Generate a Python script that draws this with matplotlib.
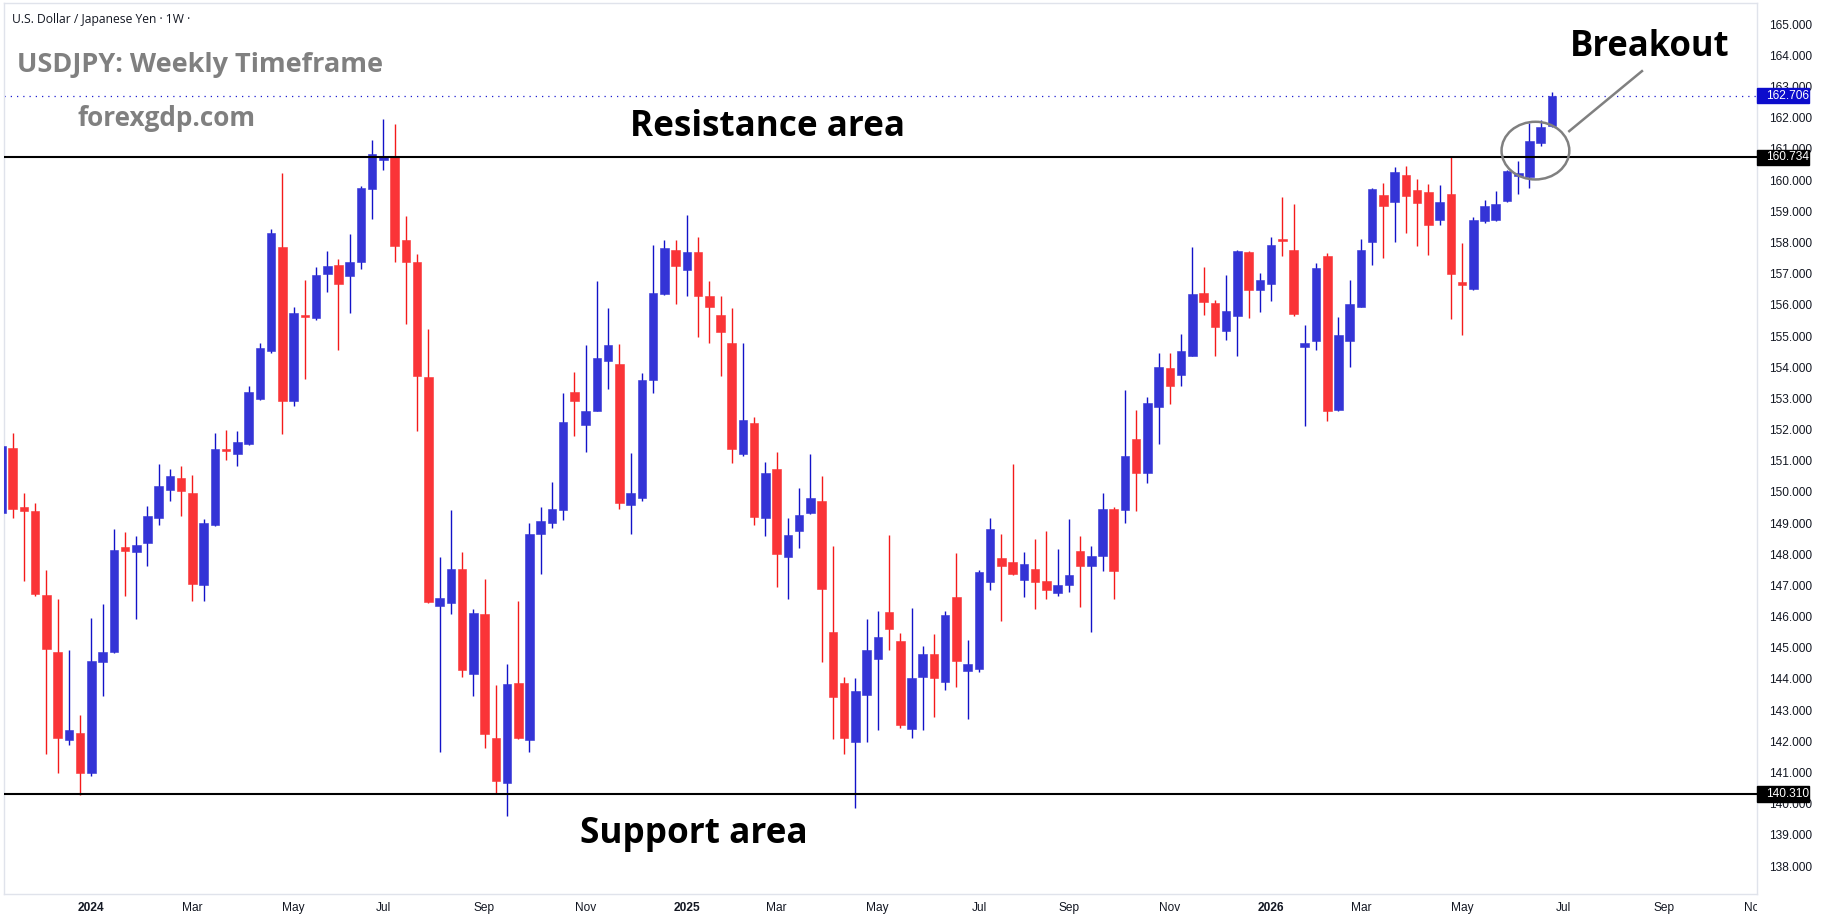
import matplotlib.pyplot as plt
import pandas as pd
from matplotlib.patches import Ellipse, Rectangle
from matplotlib.transforms import blended_transform_factory, Bbox, TransformedBbox

# weekly USDJPY candles, first bar = week of 2023-11-06
start_week = "2023-11-06"
opens = [149.31, 151.42, 149.50, 149.40, 146.68, 144.86, 142.03, 142.27, 140.97, 144.56,
         144.86, 148.23, 148.08, 148.36, 149.17, 150.06, 150.46, 149.95, 147.00, 148.93,
         151.39, 151.22, 151.54, 152.99, 154.53, 157.87, 152.92, 155.66, 155.58, 157.00,
         157.27, 156.91, 157.36, 159.72, 160.65, 160.75, 158.08, 157.36, 153.67, 146.34,
         146.43, 147.53, 144.15, 146.09, 142.10, 140.65, 143.88, 142.03, 148.66, 148.99,
         149.42, 153.22, 152.14, 152.60, 154.20, 154.09, 149.57, 149.82, 153.60, 156.36,
         157.76, 157.13, 157.68, 156.27, 155.66, 154.77, 151.20, 152.20, 149.16, 150.72,
         147.91, 148.74, 149.33, 149.72, 145.51, 143.88, 141.99, 143.48, 144.64, 146.15,
         145.22, 142.39, 144.07, 144.81, 143.90, 146.64, 144.26, 144.32, 147.10, 147.89,
         147.74, 147.17, 147.53, 147.15, 146.75, 147.00, 148.12, 147.62, 147.95, 149.46,
         149.42, 151.71, 150.61, 152.73, 153.96, 153.75, 154.37, 156.38, 156.06, 155.15,
         155.64, 157.68, 156.49, 156.68, 158.10, 157.76, 154.64, 154.85, 157.55, 152.62,
         154.85, 155.94, 158.02, 159.52, 159.29, 160.16, 159.69, 159.61, 158.72, 159.55,
         156.74, 156.51, 158.70, 158.72, 159.33, 160.14, 160.10, 161.20, 161.75]
highs = [151.60, 151.90, 149.97, 149.65, 147.51, 146.57, 144.94, 142.84, 145.96, 146.41,
         148.80, 148.70, 148.57, 149.55, 150.88, 150.74, 150.84, 150.55, 149.14, 151.88,
         151.97, 151.94, 153.39, 154.79, 158.42, 160.22, 155.94, 156.79, 157.21, 157.72,
         157.46, 158.27, 159.82, 161.28, 161.96, 161.80, 158.84, 157.63, 155.21, 147.91,
         149.42, 148.06, 146.24, 147.21, 143.80, 144.49, 146.49, 148.99, 149.53, 150.33,
         153.18, 153.86, 154.70, 156.76, 155.91, 154.73, 151.24, 153.81, 157.91, 158.08,
         158.08, 158.87, 158.19, 156.76, 156.27, 155.89, 154.79, 152.39, 150.97, 151.29,
         149.17, 150.14, 151.20, 150.50, 148.27, 144.07, 144.03, 145.92, 146.19, 148.63,
         145.49, 146.28, 145.07, 145.45, 146.19, 148.04, 145.24, 147.51, 149.17, 148.66,
         150.91, 148.08, 148.49, 148.76, 148.17, 149.14, 148.57, 148.27, 149.95, 149.52,
         153.28, 152.62, 153.05, 154.47, 154.47, 155.05, 157.87, 157.21, 156.17, 156.96,
         157.76, 157.72, 157.02, 158.19, 159.46, 159.23, 155.34, 157.34, 157.65, 155.62,
         156.81, 158.10, 159.74, 159.90, 160.42, 160.44, 160.03, 159.88, 159.84, 160.75,
         157.97, 158.82, 159.37, 159.65, 160.33, 160.61, 161.84, 161.94, 162.83]
lows = [149.20, 149.17, 147.15, 146.66, 141.61, 140.97, 141.88, 140.29, 140.90, 143.45,
        144.84, 146.66, 145.92, 147.62, 148.93, 149.70, 149.23, 146.49, 146.49, 148.90,
        151.03, 150.84, 151.52, 152.96, 154.47, 151.86, 152.77, 153.62, 155.51, 156.40,
        154.56, 155.75, 157.15, 158.76, 160.33, 157.38, 155.40, 151.95, 146.43, 141.67,
        146.07, 144.05, 143.45, 141.78, 140.31, 139.59, 142.07, 141.67, 147.36, 148.83,
        149.10, 151.80, 151.27, 152.58, 153.30, 149.46, 148.65, 149.70, 153.18, 156.30,
        156.04, 156.27, 154.98, 154.79, 153.73, 150.93, 151.15, 148.93, 148.59, 146.94,
        146.57, 148.19, 149.30, 144.54, 142.07, 141.61, 139.87, 141.97, 142.35, 144.92,
        142.42, 142.12, 142.37, 142.78, 143.65, 143.75, 142.71, 144.22, 146.85, 145.85,
        147.32, 146.62, 146.24, 146.58, 146.66, 146.79, 146.30, 145.51, 147.45, 146.58,
        149.00, 149.38, 150.29, 151.54, 152.81, 153.39, 154.35, 155.66, 154.36, 154.88,
        154.37, 155.58, 155.77, 156.11, 157.55, 155.64, 152.12, 154.54, 152.28, 152.58,
        154.00, 155.92, 157.29, 157.51, 158.02, 158.29, 157.89, 157.61, 158.57, 155.53,
        155.04, 156.49, 158.63, 158.70, 159.29, 159.57, 159.76, 161.09, 161.71]
closes = [151.48, 149.46, 149.38, 146.72, 144.96, 142.10, 142.37, 140.97, 144.58, 144.86,
          148.15, 148.10, 148.30, 149.23, 150.18, 150.50, 150.03, 147.04, 148.99, 151.39,
          151.31, 151.61, 153.22, 154.60, 158.29, 152.92, 155.75, 155.60, 156.96, 157.23,
          156.68, 157.36, 159.76, 160.84, 160.78, 157.89, 157.38, 153.73, 146.47, 146.60,
          147.53, 144.30, 146.13, 142.22, 140.74, 143.84, 142.12, 148.66, 149.08, 149.44,
          152.24, 152.90, 152.58, 154.28, 154.70, 149.65, 149.95, 153.58, 156.38, 157.82,
          157.25, 157.68, 156.27, 155.94, 155.13, 151.39, 152.29, 149.19, 150.61, 148.00,
          148.63, 149.27, 149.82, 146.89, 143.41, 142.10, 143.62, 144.94, 145.36, 145.60,
          142.52, 144.03, 144.81, 144.03, 146.05, 144.58, 144.49, 147.42, 148.80, 147.62,
          147.36, 147.68, 147.11, 146.85, 147.02, 147.34, 147.62, 147.95, 149.46, 147.45,
          151.14, 150.61, 152.86, 154.00, 153.41, 154.51, 156.34, 156.09, 155.30, 155.79,
          157.72, 156.49, 156.81, 157.91, 158.04, 155.72, 154.77, 157.17, 152.60, 155.02,
          156.02, 157.76, 159.71, 159.18, 160.25, 159.48, 159.25, 158.57, 159.29, 157.00,
          156.64, 158.72, 159.16, 159.23, 160.29, 160.22, 161.26, 161.71, 162.706]

resistance = 160.734
support = 140.310

W, H = 1825, 923
plt.rcParams["font.family"] = ["Liberation Sans", "DejaVu Sans"]
fig = plt.figure(figsize=(W / 100, H / 100), dpi=100)
ax = fig.add_axes([4 / W, (H - 893.5) / H, (1757 - 4) / W, (893.5 - 3) / H])

x = list(range(len(opens)))
up = [c >= o for o, c in zip(opens, closes)]
body_col = ["#3434D6" if u else "#FA3437" for u in up]
wick_col = ["#1212C8" if u else "#F41A1A" for u in up]

ax.vlines(x, lows, highs, colors=wick_col, linewidth=1.0, zorder=2)
ax.bar(x, [abs(c - o) for o, c in zip(opens, closes)],
       bottom=[min(o, c) for o, c in zip(opens, closes)],
       width=0.76, color=body_col, edgecolor=body_col, linewidth=0.4, zorder=3)

# support / resistance + last price line
ax.axhline(resistance, color="black", lw=1.5, zorder=4)
ax.axhline(support, color="black", lw=1.5, zorder=4)
ax.axhline(closes[-1], color="#1c1cd0", lw=0.9, ls=(0, (1, 4)), zorder=1)

ax.set_xlim(0.23, 156.25)
ax.set_ylim(137.12, 165.68)

# y axis on the right, TradingView style
ax.yaxis.tick_right()
ax.set_yticks(range(138, 166))
ax.set_yticklabels([f"{v:.3f}" for v in range(138, 166)])
ax.tick_params(axis="y", length=0, pad=9, labelsize=8.6, labelcolor="#131722")

# x ticks at first weekly bar of every other month
start = pd.Timestamp(start_week)
tick_pos, tick_lab = [], []
for m in pd.date_range("2024-01-01", "2026-11-01", freq="2MS"):
    d = m + pd.Timedelta(days=(7 - m.weekday()) % 7)
    tick_pos.append((d - start).days // 7)
    tick_lab.append(str(m.year) if m.month == 1 else m.strftime("%b"))
ax.set_xticks(tick_pos)
ax.set_xticklabels(tick_lab)
ax.tick_params(axis="x", length=0, pad=6, labelsize=8.6, labelcolor="#131722")
clip = TransformedBbox(Bbox([[0, -1], [1, 1]]), ax.transAxes)
for lab in ax.get_xticklabels():
    if lab.get_text().isdigit():
        lab.set_fontweight("bold")
    lab.set_clip_box(clip)
    lab.set_clip_on(True)

for s in ax.spines.values():
    s.set_color("#E0E3EB")
    s.set_linewidth(1.0)

# price tags on the scale
trans = blended_transform_factory(ax.transAxes, ax.transData)
for price, fc in [(closes[-1], "#0C0CCC"), (resistance, "black"), (support, "black")]:
    ax.add_patch(Rectangle((1.0, price - 0.245), 52 / 1753, 0.49, transform=trans,
                           fc=fc, ec=fc, clip_on=False, zorder=10))
    ax.text(1.0 + 9 / 1753, price, f"{price:.3f}", transform=trans, color="white",
            va="center", ha="left", fontsize=8.6, clip_on=False, zorder=11)

# breakout annotation
ax.add_patch(Ellipse((136.53, 160.946), 6.03, 1.85, fill=False, ec="#808080", lw=1.8, zorder=6))
ax.plot([146.01, 139.54], [163.495, 161.571], color="#808080", lw=1.8, zorder=6)

renderer = fig.canvas.get_renderer()


def fit_text(x0, base, s, width, **kw):
    t = fig.text(x0 / W, 1 - base / H, s, ha="left", va="baseline", **kw)
    w = t.get_window_extent(renderer).width
    t.set_fontsize(t.get_fontsize() * width / w)
    return t


fit_text(12, 23, "U.S. Dollar / Japanese Yen · 1W ·", 179, color="#131722", family="Open Sans")
fit_text(17, 71.5, "USDJPY: Weekly Timeframe", 366, color="#808080", family="Open Sans",
         fontweight="bold", fontsize=20)
fit_text(78, 126.5, "forexgdp.com", 178, color="#808080", family="Open Sans",
         fontweight="bold", fontsize=20)
fit_text(630, 136.5, "Resistance area", 275, color="black", family="Open Sans",
         fontweight="bold", fontsize=26)
fit_text(1570, 55.5, "Breakout", 160, color="black", family="Open Sans",
         fontweight="bold", fontsize=26)
fit_text(580, 842.5, "Support area", 228, color="black", family="Open Sans",
         fontweight="bold", fontsize=26)

fig.savefig("out.png", dpi=100)
